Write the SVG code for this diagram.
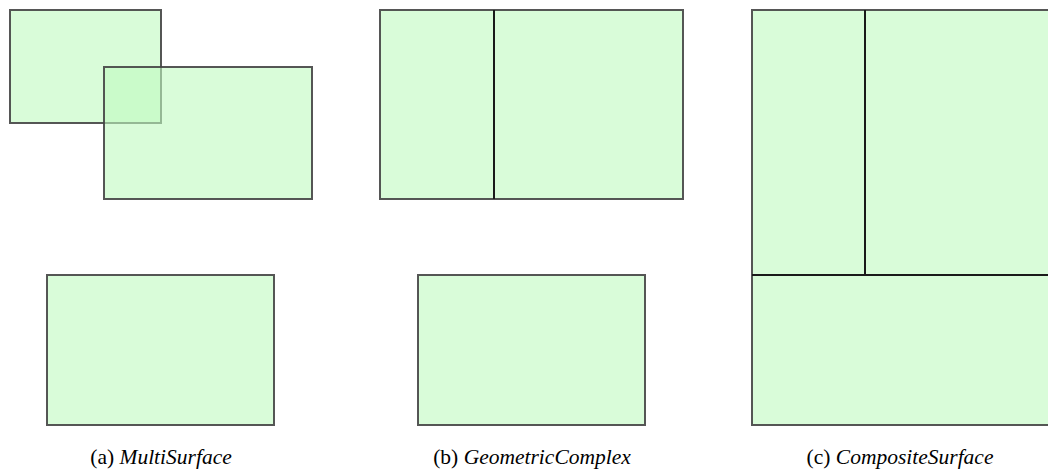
<svg xmlns="http://www.w3.org/2000/svg" width="1048" height="474" viewBox="0 0 1048 474">
<style>
.s{fill:#c0fac0;fill-opacity:0.6;stroke:#444;stroke-opacity:0.9;stroke-width:2}
.e{stroke:#1a1a1a;stroke-width:2;fill:none}
.cap{font-family:"Liberation Serif","DejaVu Serif",serif;font-size:21.5px;fill:#000}
.cap tspan.i{font-style:italic}
</style>
<rect width="1048" height="474" fill="#fff"/>
<g id="multisurface">
<rect class="s" x="10" y="10" width="151" height="113"/>
<rect class="s" x="104" y="67" width="208" height="132"/>
<rect class="s" x="47" y="275" width="227" height="150"/>
</g>
<g id="geometriccomplex">
<rect class="s" x="380" y="10" width="303" height="189"/>
<rect class="s" x="418" y="275" width="227" height="150"/>
</g>
<g id="compositesurface">
<rect class="s" x="752" y="10" width="310" height="415"/>
</g>
<g id="connectors">
<line class="e" x1="494" y1="10" x2="494" y2="199"/>
<line class="e" x1="865" y1="10" x2="865" y2="275"/>
<line class="e" x1="752" y1="275" x2="1062" y2="275"/>
</g>
<g id="captions">
<text class="cap" x="161" y="464" text-anchor="middle">(a) <tspan class="i">MultiSurface</tspan></text>
<text class="cap" x="532" y="464" text-anchor="middle">(b) <tspan class="i">GeometricComplex</tspan></text>
<text class="cap" x="900" y="464" text-anchor="middle">(c) <tspan class="i">CompositeSurface</tspan></text>
</g>
</svg>
